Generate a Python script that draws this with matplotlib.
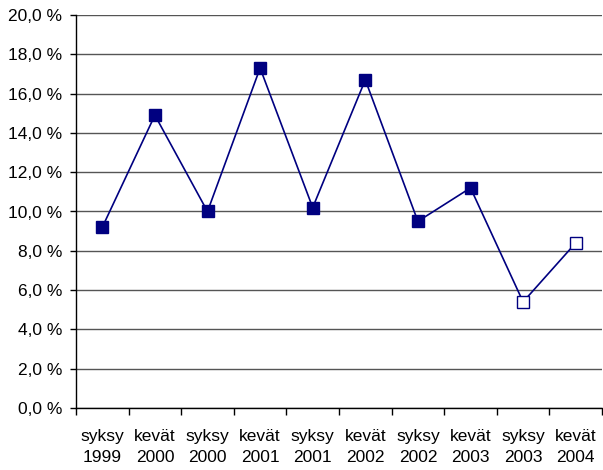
import matplotlib
matplotlib.use("Agg")
import matplotlib.pyplot as plt
from matplotlib.ticker import FixedLocator, FuncFormatter

plt.rcParams['font.family'] = ['Liberation Sans', 'DejaVu Sans']

periods = ["syksy\n1999", "kevät\n2000", "syksy\n2000", "kevät\n2001", "syksy\n2001",
           "kevät\n2002", "syksy\n2002", "kevät\n2003", "syksy\n2003", "kevät\n2004"]
values = [9.2, 14.9, 10.0, 17.3, 10.2, 16.7, 9.5, 11.2, 5.4, 8.4]
hollow = [False] * 8 + [True, True]

navy = "#000080"

fig = plt.figure(figsize=(6.03, 4.70), dpi=100)
ax = fig.add_axes([76 / 603, 1 - 408 / 470, 526 / 603, 393 / 470])

x = list(range(len(values)))
ax.plot(x, values, color=navy, linewidth=1.2, zorder=3)
for xi, v, h in zip(x, values, hollow):
    ax.plot([xi], [v], marker="s", markersize=8.5, linestyle="none",
            markerfacecolor="white" if h else navy,
            markeredgecolor=navy, markeredgewidth=1.0, zorder=4)

ax.set_xlim(-0.5, len(values) - 0.5)
ax.set_ylim(0, 20)
ax.set_yticks(range(0, 21, 2))
ax.yaxis.set_major_formatter(FuncFormatter(lambda v, p: f"{v:.1f}".replace(".", ",") + " %"))
ax.yaxis.grid(True, color="#555555", linewidth=1.0)
ax.set_axisbelow(True)

# category labels centred, ticks on the category boundaries
ax.set_xticks(x)
ax.set_xticklabels(periods, linespacing=1.5)
ax.tick_params(axis="x", length=0, pad=15, labelsize=12.5)
ax.xaxis.set_minor_locator(FixedLocator([i - 0.5 for i in range(len(values) + 1)]))
ax.tick_params(axis="x", which="minor", length=5, width=1, direction="out", color="black")
ax.tick_params(axis="y", length=4, width=1, direction="out", pad=6, labelsize=12.5)

for side in ("top", "right"):
    ax.spines[side].set_visible(False)
ax.spines["left"].set_linewidth(1.0)
ax.spines["bottom"].set_linewidth(1.0)

fig.savefig("out.png", dpi=100)
